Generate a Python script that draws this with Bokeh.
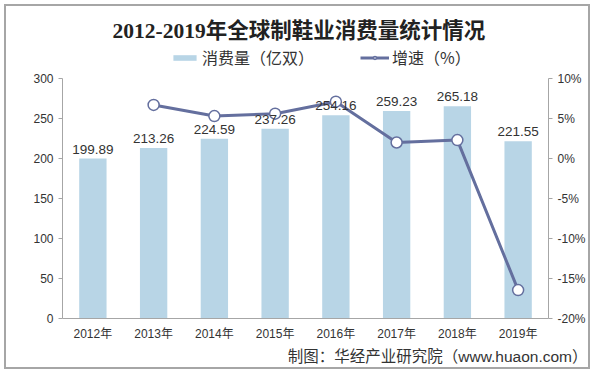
from bokeh.plotting import figure
from bokeh.models import (ColumnDataSource, Range1d, LinearAxis, FixedTicker,
                          CustomJSTickFormatter, Legend, LegendItem, LabelSet, Title, FactorRange)
from bokeh.core.properties import value
from bokeh.embed import file_html
from bokeh.resources import INLINE

years = ["2012年", "2013年", "2014年", "2015年", "2016年", "2017年", "2018年", "2019年"]
consumption = [199.89, 213.26, 224.59, 237.26, 254.16, 259.23, 265.18, 221.55]
growth_years = ["2013年", "2014年", "2015年", "2016年", "2017年", "2018年", "2019年"]
growth = [6.7, 5.3, 5.6, 7.1, 2.0, 2.3, -16.45]
left_ticks = [0, 50, 100, 150, 200, 250, 300]
right_ticks = [-20, -15, -10, -5, 0, 5, 10]

BAR = "#B8D5E6"
LINE = "#646F9E"
AXIS = "#A6A6A6"
TXT = "#333333"
SANS = "Liberation Sans, Noto Sans CJK SC"

bar_src = ColumnDataSource(dict(x=years, y=consumption, lab=[f"{v:.2f}" for v in consumption]))
line_src = ColumnDataSource(dict(x=growth_years, y=growth))

p = figure(x_range=FactorRange(factors=years), y_range=Range1d(0, 341.25),
           width=586, height=365, output_backend="svg", toolbar_location=None,
           min_border_left=56, min_border_right=44, min_border_top=39, min_border_bottom=53)
p.extra_y_ranges = {"pct": Range1d(-20, 14.125)}
p.styles = {"margin-left": "4px", "margin-top": "4px", "border": "2px solid #A6A6A6"}

p.title.text = "2012-2019年全球制鞋业消费量统计情况"
p.title.align = "left"
p.title.text_font = "Liberation Serif, Noto Sans CJK SC"
p.title.text_font_size = "21.5px"
p.title.text_font_style = "bold"
p.title.text_color = "#222222"
p.title.standoff = 5
p.title.offset = 50

p.xgrid.grid_line_color = None
p.ygrid.grid_line_color = None
p.outline_line_color = None
p.background_fill_color = "white"
p.border_fill_color = "white"

bars = p.vbar(x="x", top="y", width=0.45, source=bar_src, fill_color=BAR, line_color=None)
ln = p.line(x="x", y="y", source=line_src, y_range_name="pct", line_color=LINE, line_width=3)
mk = p.scatter(x="x", y="y", source=line_src, y_range_name="pct", size=11,
               fill_color="white", line_color=LINE, line_width=1.5)

labels = LabelSet(x="x", y="y", text="lab", source=bar_src, text_align="center",
                  text_baseline="bottom", y_offset=5, text_font=value("Liberation Sans"),
                  text_font_size="13.5px", text_color=TXT)
p.add_layout(labels)

def style_axis(ax):
    ax.axis_line_color = AXIS
    ax.major_tick_line_color = AXIS
    ax.minor_tick_line_color = None
    ax.major_tick_out = 4
    ax.major_tick_in = 0
    ax.major_label_text_font = SANS
    ax.major_label_text_font_size = "12px"
    ax.major_label_text_color = TXT

yax = p.yaxis[0]
yax.ticker = FixedTicker(ticks=left_ticks)
yax.bounds = (0, 300)
style_axis(yax)

xax = p.xaxis[0]
style_axis(xax)
xax.major_tick_line_color = None
xax.major_tick_out = 0
xax.major_label_standoff = 8

rax = LinearAxis(y_range_name="pct", ticker=FixedTicker(ticks=right_ticks),
                 formatter=CustomJSTickFormatter(code="return tick + '%';"), bounds=(-20, 10))
style_axis(rax)
p.add_layout(rax, "right")

legend = Legend(items=[LegendItem(label="消费量（亿双）", renderers=[bars]),
                       LegendItem(label="增速（%）", renderers=[ln, mk])],
                orientation="horizontal", location=(108, 249), border_line_color=None,
                background_fill_alpha=0, label_text_font="Noto Sans CJK SC",
                label_text_font_size="16px",
                label_text_color=TXT, glyph_width=29, glyph_height=7, spacing=46,
                padding=0, margin=0, label_standoff=3)
p.add_layout(legend)

src = Title(text="制图：华经产业研究院（www.huaon.com）", align="right",
            text_font=SANS, text_font_size="15.5px", text_font_style="normal",
            text_color=TXT, offset=-39, standoff=4)
p.add_layout(src, "below")

open("out.html", "w").write(file_html(p, INLINE))
